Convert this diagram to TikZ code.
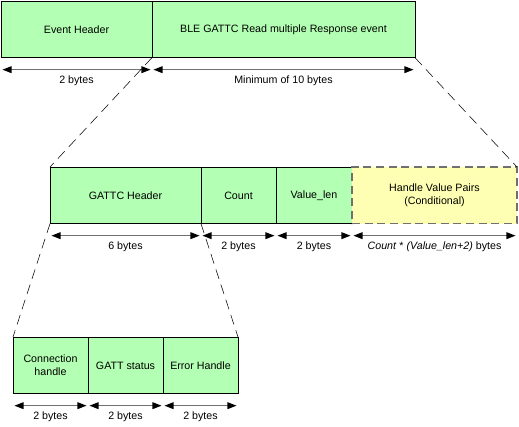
\documentclass[tikz,border=0pt]{standalone}
\usepackage{fontspec}
\setmainfont{Liberation Sans}
\usetikzlibrary{arrows.meta,positioning}
\definecolor{fieldgreen}{RGB}{179,255,179}
\definecolor{condyellow}{RGB}{255,255,179}
\definecolor{arrowgray}{RGB}{112,112,112}

\begin{document}
\begin{tikzpicture}[x=0.75pt,y=-0.75pt,node distance=0pt,
  font=\fontsize{8}{9.5}\selectfont,
  field/.style={rectangle,draw=black,fill=fieldgreen,minimum height=42.5pt,
    inner sep=1pt,outer sep=0pt,align=center},
  cond field/.style={field,draw=arrowgray,fill=condyellow,line width=0.8pt,
    dash pattern=on 6pt off 3.5pt},
  size arrow/.style={{Triangle[length=7pt,width=5pt,color=black]}-{Triangle[length=7pt,width=5pt,color=black]},
    draw=arrowgray,line width=1.2pt,shorten <=1pt,shorten >=1pt},
  zoom line/.style={draw=black,thin,dash pattern=on 7.5pt off 4.5pt}]

  \useasboundingbox (0,0) rectangle (519,426);

  % event
  \node[field,minimum width=113.25pt,anchor=north west] (evh) at (1,1) {Event Header};
  \node[field,minimum width=197.25pt,right=of evh] (ble) {BLE GATTC Read multiple Response event};

  % event parameters
  \node[field,minimum width=113.25pt,anchor=north west] (gh) at (50,167) {GATTC Header};
  \node[field,minimum width=56.25pt,right=of gh] (cnt) {Count};
  \node[field,minimum width=57pt,right=of cnt] (vlen) {Value\_len};
  \node[cond field,minimum width=123.75pt,right=of vlen] (hvp) {Handle Value Pairs\\(Conditional)};

  % GATTC header
  \node[field,minimum width=56.25pt,anchor=north west] (ch) at (13,337) {Connection\\handle};
  \node[field,minimum width=56.25pt,right=of ch] (gs) {GATT status};
  \node[field,minimum width=56.25pt,right=of gs] (eh) {Error Handle};

  % sizes
  \foreach \f/\t in {evh/2 bytes, ble/Minimum of 10 bytes, gh/6 bytes, cnt/2 bytes,
                     vlen/2 bytes, ch/2 bytes, gs/2 bytes, eh/2 bytes}
    \draw[size arrow] ([yshift=-9pt]\f.south west) -- node[below=1pt] {\t} ([yshift=-9pt]\f.south east);
  \draw[size arrow] ([yshift=-9pt]hvp.south west) -- node[below=1pt]
    {\textit{Count} * \textit{(Value\_len+2)} bytes} ([yshift=-9pt]hvp.south east);

  % zoom
  \draw[zoom line] (ble.south west) -- (gh.north west);
  \draw[zoom line] (ble.south east) -- (hvp.north east);
  \draw[zoom line] (gh.south west) -- (ch.north west);
  \draw[zoom line] (gh.south east) -- (eh.north east);
\end{tikzpicture}
\end{document}
